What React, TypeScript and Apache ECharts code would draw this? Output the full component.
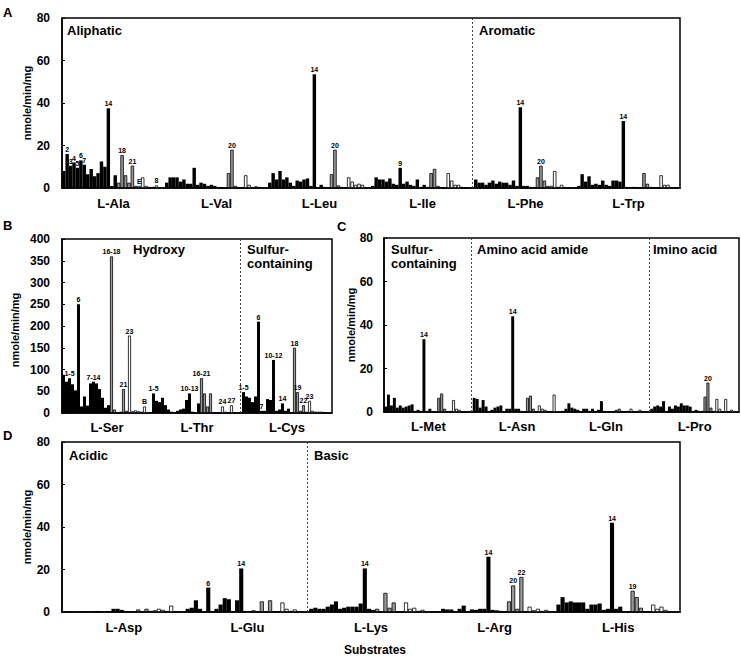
import React, { useEffect, useRef } from "react";
import * as echarts from "echarts";

const FONT = "'Liberation Sans', Arial, sans-serif";
const SLOTS = 30; // 28 enzymes + 2 spacer slots per substrate

// ---------- Panel A ----------
const substratesA = ["L-Ala", "L-Val", "L-Leu", "L-Ile", "L-Phe", "L-Trp"];
const alaValues = [8, 16, 10.5, 12, 9.5, 13, 11, 6.5, 9, 5.5, 7, 12.5, 10, 37.5, 1, 6, 2.5, 15.5, 6, 2.5, 10.5, 1, 1, 5, 1, 0.5, 0.5, 1.2];
const valValues = [2.5, 5, 5, 5, 3, 4, 2, 2, 9.5, 1.5, 2.5, 2, 1, 1.5, 1, 0.5, 0.3, 0.3, 7, 18, 1, 0.3, 0, 6, 1.5, 0.3, 0.8, 0.5];
const leuValues = [2.5, 7, 4, 8, 4, 5, 2.5, 1, 3.5, 3, 4, 4.5, 1, 53.5, 0.3, 1.5, 0.5, 0.3, 6.5, 18, 1.2, 0.5, 0.3, 5, 3, 1.5, 2, 1.5];
const ileValues = [1, 5, 4, 4, 3, 4.5, 2, 1.5, 9.5, 2, 3, 1.5, 1, 4, 0.5, 1.5, 0.5, 7, 9, 1, 0.3, 0, 7, 3.5, 1.5, 1.5, 0.5, 0.3];
const pheValues = [4, 2.5, 2.5, 1.5, 2.5, 3.5, 2, 3, 2.5, 2.5, 1.5, 3.5, 1, 38, 1, 1, 0.5, 0.5, 5, 10.5, 3.5, 1, 1, 8, 0.5, 1.5, 0.5, 0.3];
const trpValues = [1, 6.5, 3, 5.5, 1.5, 2, 1.5, 3.5, 1.5, 1, 3.5, 3.5, 3, 31.5, 0.5, 0.5, 0.5, 0.3, 0.3, 7, 2, 0.5, 0.3, 0.3, 6, 1.5, 1.5, 0.3];
const labelsA: [number, number, string][] = [
  [0, 2, "2"], [0, 3, "3"], [0, 4, "4"], [0, 5, "5"], [0, 6, "6"], [0, 7, "7"], [0, 14, "14"], [0, 18, "18"], [0, 21, "21"], [0, 23, "E"], [0, 28, "8"],
  [1, 20, "20"], [2, 14, "14"], [2, 20, "20"], [3, 9, "9"], [4, 14, "14"], [4, 20, "20"], [5, 14, "14"],
];

// ---------- Panel B ----------
const substratesB = ["L-Ser", "L-Thr", "L-Cys"];
const serValues = [88, 72, 80, 66, 52, 250, 15, 38, 17, 68, 72, 68, 55, 35, 12, 18, 360, 8, 1, 3, 55, 5, 178, 4, 6, 4, 3, 15];
const thrValues = [45, 28, 25, 35, 18, 8, 3, 1, 5, 8, 10, 30, 45, 3, 0, 22, 80, 45, 15, 45, 1, 0, 2, 15, 3, 0.5, 18, 2];
const cysValues = [48, 38, 35, 25, 38, 210, 5, 5, 32, 30, 122, 5, 8, 22, 5, 10, 2, 150, 48, 5, 18, 3, 28, 5, 3, 3, 3, 2];
const labelsB: [number, number, string][] = [
  [0, 3, "1-5"], [0, 6, "6"], [0, 11, "7-14"], [0, 17, "16-18"], [0, 21, "21"], [0, 23, "23"], [0, 28, "B"],
  [1, 1, "1-5"], [1, 13, "10-13"], [1, 17, "16-21"], [1, 24, "24"], [1, 27, "27"],
  [2, 1, "1-5"], [2, 6, "6"], [2, 7, "7"], [2, 11, "10-12"], [2, 14, "14"], [2, 18, "18"], [2, 19, "19"], [2, 21, "22"], [2, 23, "23"],
];

// ---------- Panel C ----------
const substratesC = ["L-Met", "L-Asn", "L-Gln", "L-Pro"];
const metValues = [2.5, 8, 3, 6.5, 2, 3, 2, 2.5, 3, 3.5, 0.5, 1, 0.5, 33.5, 0.5, 1.5, 0, 0, 6.5, 8.5, 1.5, 0.3, 0.5, 5.5, 1.5, 1, 0.3, 0.3];
const asnValues = [6.5, 6, 2, 5.5, 2.5, 0.5, 1, 2, 2.5, 3, 0.3, 1.5, 1.5, 44, 1.5, 1.5, 0.5, 0.3, 6.5, 7.5, 1.5, 0.3, 3, 1.5, 1, 0.3, 0.3, 8];
const glnValues = [0.5, 1.5, 4, 2, 1.5, 1, 0.3, 1.5, 1.5, 0.5, 1.5, 0.5, 1, 5, 0.5, 0.3, 0.3, 0.3, 1, 1.5, 0.5, 0.3, 0.5, 1.5, 0.3, 0.3, 1, 0.3];
const proValues = [1.5, 2.5, 3, 2.5, 5, 0.5, 2.5, 1.5, 3, 2.5, 4, 3, 3, 2.5, 0.5, 1, 0.5, 0.5, 7, 13.5, 2, 0.5, 6, 1.5, 0.3, 6, 0.3, 1];
const labelsC: [number, number, string][] = [[0, 14, "14"], [1, 14, "14"], [3, 20, "20"]];

// ---------- Panel D ----------
const substratesD = ["L-Asp", "L-Glu", "L-Lys", "L-Arg", "L-His"];
const aspValues = [0.1, 0.1, 0.1, 0.1, 0.1, 0.3, 0.2, 0.3, 0.5, 0.3, 0.2, 0.3, 1.5, 1.5, 1, 0.5, 0.3, 0.3, 1.2, 0.3, 1.5, 0.5, 0.8, 1.5, 1, 0.5, 3, 0.2];
const gluValues = [1.5, 2, 5.5, 1.5, 0.3, 11.5, 0.5, 1.5, 3.5, 6.5, 6, 0.5, 5.5, 20.5, 0.5, 0.3, 0.8, 0.3, 5, 0.3, 5.5, 0.3, 0.3, 4.5, 1.5, 0.5, 1.2, 0.3];
const lysValues = [1.5, 2, 1.5, 1.5, 2.5, 3.5, 5, 1.5, 2, 2.5, 2.5, 2.5, 4, 20.5, 1.5, 1, 1.5, 0.3, 9, 2, 4.5, 0.3, 0.3, 4.5, 1.5, 2, 0.5, 1];
const argValues = [0.3, 0.2, 1.5, 1.2, 1.2, 0.2, 1.5, 3, 0.3, 1.2, 1, 1.5, 1.5, 26, 1, 0.8, 0.5, 0.3, 5, 12.5, 1.5, 16.5, 0.3, 2.5, 0.8, 1.5, 0.5, 1];
const hisValues = [3.5, 7, 4.5, 5, 4.5, 4.5, 4.5, 1.5, 3.5, 3.5, 4, 1, 1.5, 42, 1.5, 2.5, 0.3, 0.3, 10, 7, 2, 0.3, 0.3, 3.5, 1.5, 2.5, 1, 0.3];
const labelsD: [number, number, string][] = [
  [1, 6, "6"], [1, 14, "14"], [2, 14, "14"], [3, 14, "14"], [3, 20, "20"], [3, 22, "22"], [4, 14, "14"], [4, 19, "19"],
];

// Dividers: index of the group after which a dashed line is drawn
const dividersA = [3];
const dividersB = [1];
const dividersC = [0, 2];
const dividersD = [1];

const Y_NAME = "nmole/min/mg";
const BLACK_LAST = 16;
const GRAY_LAST = 22;

const styleBlack = { color: "#000", borderWidth: 0 };
const styleGray = { color: "#9a9a9a", borderColor: "#000", borderWidth: 0.8 };
const styleWhite = { color: "#fff", borderColor: "#000", borderWidth: 0.8 };

const barLabel = {
  show: true, position: "top", distance: 1, fontSize: 7, fontWeight: "bold",
  color: "#000", fontFamily: FONT, textBorderWidth: 0, textBorderColor: "transparent",
};

function buildData(groups: number[][], labels: [number, number, string][]) {
  const data: any[] = [];
  groups.forEach((vals, g) => {
    for (let s = 0; s < SLOTS; s++) {
      if (s >= vals.length) {
        data.push("-");
        continue;
      }
      const e = s + 1;
      const st = e <= BLACK_LAST ? styleBlack : e <= GRAY_LAST ? styleGray : styleWhite;
      const item: any = { value: vals[s], itemStyle: st };
      const lab = labels.find((l) => l[0] === g && l[1] === e);
      if (lab) item.label = { ...barLabel, formatter: lab[2] };
      data.push(item);
    }
  });
  return data;
}

function slotNames(n: number) {
  return Array.from({ length: n * SLOTS }, (_, i) => String(i));
}

export default function App() {
  const ref = useRef<HTMLDivElement>(null);
  useEffect(() => {
    if (!ref.current) return;
    const chart = echarts.init(ref.current, undefined, { renderer: "svg" });

    const panels = [
      { subs: substratesA, groups: [alaValues, valValues, leuValues, ileValues, pheValues, trpValues], labels: labelsA, div: dividersA, grid: { left: 62, top: 18, width: 618, height: 170 }, max: 80, interval: 20, nameX: 27, labelMargin: 9, tickMargin: 12 },
      { subs: substratesB, groups: [serValues, thrValues, cysValues], labels: labelsB, div: dividersB, grid: { left: 62, top: 239, width: 270, height: 174 }, max: 400, interval: 50, nameX: 15, labelMargin: 8, tickMargin: 12 },
      { subs: substratesC, groups: [metValues, asnValues, glnValues, proValues], labels: labelsC, div: dividersC, grid: { left: 384, top: 238, width: 355, height: 174 }, max: 80, interval: 20, nameX: 351, labelMargin: 8, tickMargin: 11 },
      { subs: substratesD, groups: [aspValues, gluValues, lysValues, argValues, hisValues], labels: labelsD, div: dividersD, grid: { left: 62, top: 442, width: 618, height: 170 }, max: 80, interval: 20, nameX: 27, labelMargin: 9, tickMargin: 12 },
    ];

    const grids: any[] = [];
    const xAxes: any[] = [];
    const yAxes: any[] = [];
    const series: any[] = [];
    const nameTexts: any[] = [];

    panels.forEach((p, i) => {
      grids.push({ ...p.grid, show: true, borderColor: "#000", borderWidth: 1.5, backgroundColor: "transparent" });
      xAxes.push({
        type: "category", gridIndex: i, data: slotNames(p.subs.length), position: "bottom",
        axisLine: { show: true, lineStyle: { color: "#000", width: 1.5 } },
        axisTick: { show: false }, axisLabel: { show: false }, splitLine: { show: false },
      });
      xAxes.push({
        type: "category", gridIndex: i, data: p.subs, position: "bottom",
        axisLine: { show: false }, axisTick: { show: false }, splitLine: { show: false },
        axisLabel: { show: true, fontSize: 13, fontWeight: "bold", color: "#000", fontFamily: FONT, margin: p.labelMargin },
      });
      yAxes.push({
        type: "value", gridIndex: i, min: 0, max: p.max, interval: p.interval,
        axisLine: { show: true, lineStyle: { color: "#000", width: 1.5 } },
        axisTick: { show: true, inside: true, length: 3, lineStyle: { color: "#000" } },
        axisLabel: { fontSize: 12, fontWeight: "bold", color: "#000", fontFamily: FONT, margin: p.tickMargin },
        splitLine: { show: false },
      });
      series.push({
        type: "bar", xAxisIndex: i * 2, yAxisIndex: i,
        barCategoryGap: "0%", barGap: "0%",
        data: buildData(p.groups, p.labels),
        label: { ...barLabel, show: false },
        markLine: {
          silent: true, symbol: "none", label: { show: false },
          lineStyle: { color: "#444", type: [2, 2], width: 1 },
          data: p.div.map((g) => ({ xAxis: (g + 1) * SLOTS - 1 })),
        },
      });
      nameTexts.push({
        type: "text", x: p.nameX, y: p.grid.top + p.grid.height / 2 + (i === 1 ? 4 : 0), rotation: Math.PI / 2, silent: true,
        style: { text: Y_NAME, fontSize: 11, fontWeight: "bold", fontFamily: FONT, fill: "#000", textAlign: "center", textVerticalAlign: "middle" },
      });
    });

    const txt = (text: string, x: number, y: number, size: number, align = "left") => ({
      type: "text", x, y, silent: true,
      style: { text, fontSize: size, fontWeight: "bold", fontFamily: FONT, fill: "#000", textAlign: align, textVerticalAlign: "middle" },
    });

    const graphic = [
      ...nameTexts,
      txt("A", 3, 12, 13), txt("B", 3, 225, 13), txt("C", 337, 226, 13), txt("D", 3, 435, 13),
      txt("Aliphatic", 67, 30, 13), txt("Aromatic", 479, 30, 13),
      txt("Hydroxy", 133, 249, 13), txt("Sulfur-", 247, 249, 13), txt("containing", 247, 263, 13),
      txt("Sulfur-", 391, 249, 13), txt("containing", 391, 263, 13), txt("Amino acid amide", 477, 249, 13), txt("Imino acid", 653, 249, 13),
      txt("Acidic", 69, 455, 13), txt("Basic", 314, 455, 13),
      txt("Substrates", 375, 650, 12, "center"),
    ];

    chart.setOption({
      animation: false,
      backgroundColor: "#fff",
      grid: grids,
      xAxis: xAxes,
      yAxis: yAxes,
      series,
      graphic,
    });
    return () => chart.dispose();
  }, []);

  return <div ref={ref} style={{ position: "fixed", left: 0, top: 0, width: 741, height: 658, background: "#fff" }} />;
}
